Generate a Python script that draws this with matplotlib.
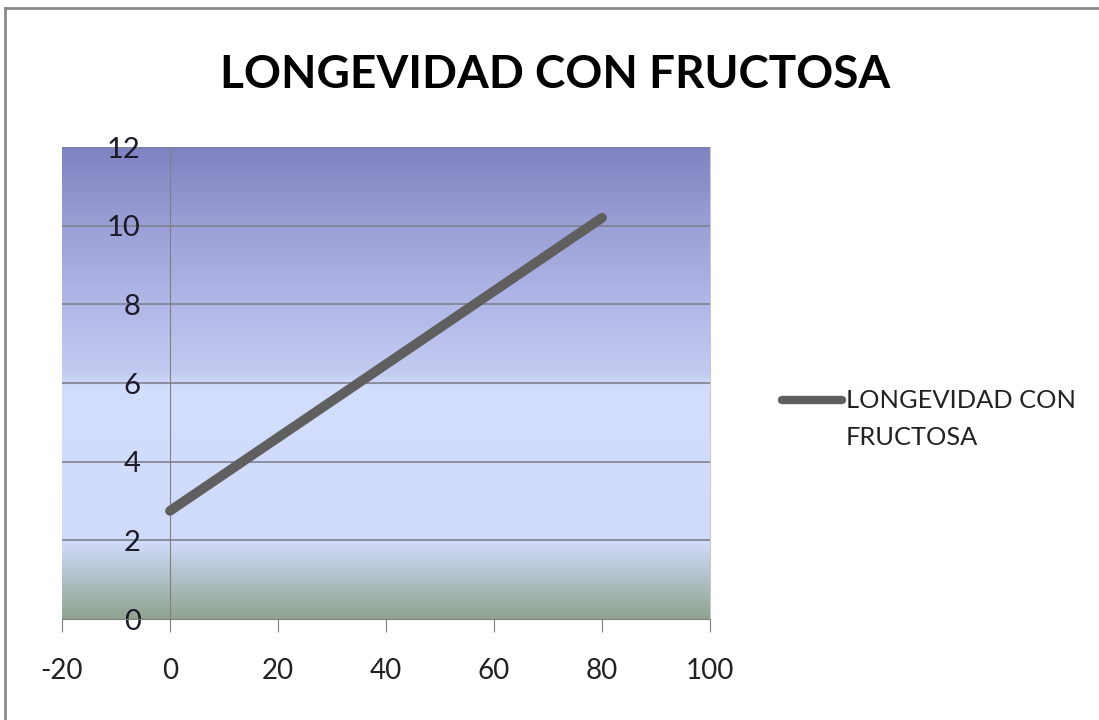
import numpy as np
import matplotlib.pyplot as plt
from matplotlib.colors import LinearSegmentedColormap
from matplotlib.lines import Line2D

title = "LONGEVIDAD CON FRUCTOSA"
series_name = ["LONGEVIDAD CON", "FRUCTOSA"]
x_vals = [0, 80]
y_vals = [2.75, 10.2]
x_ticks = [-20, 0, 20, 40, 60, 80, 100]
y_ticks = [0, 2, 4, 6, 8, 10, 12]

plt.rcParams['font.family'] = ['Lato', 'DejaVu Sans']
plt.rcParams['axes.unicode_minus'] = False

W, H = 1099, 720
fig = plt.figure(figsize=(W / 100, H / 100), dpi=100)
fig.patch.set_facecolor('white')


def fx(px):
    return px / W


def fy(py):
    return 1 - py / H


# outer chart border (left and top edges visible)
fig.add_artist(Line2D([fx(5), fx(5)], [0, fy(8)], transform=fig.transFigure,
                      color='#8a8a8a', lw=2))
fig.add_artist(Line2D([fx(5), 1], [fy(8), fy(8)], transform=fig.transFigure,
                      color='#8a8a8a', lw=2))

ax = fig.add_axes([fx(62), fy(619), fx(710) - fx(62), fy(147) - fy(619)])

# gradient plot-area fill
stops = [(0.0, '#8fa38f'), (0.16, '#d0dafa'), (0.49, '#d3ddfc'),
         (0.52, '#c4cbf1'), (0.66, '#b2b8e7'), (0.83, '#9ba0d6'), (1.0, '#7e82c0')]
cmap = LinearSegmentedColormap.from_list('bg', stops)
grad = np.linspace(0, 1, 512).reshape(-1, 1)
ax.imshow(grad, cmap=cmap, origin='lower', aspect='auto',
          extent=[-20, 100, 0, 12], zorder=0)

ax.set_xlim(-20, 100)
ax.set_ylim(0, 12)

for yt in y_ticks[1:]:
    ax.axhline(yt, color='#7f8090', lw=1.2, zorder=1)

line_color = '#5f5f5f'
ax.plot(x_vals, y_vals, color=line_color, lw=7, solid_capstyle='round', zorder=3)

ax.spines['left'].set_position(('data', 0))
ax.spines['left'].set_color('#808080')
ax.spines['bottom'].set_color('#808080')
ax.spines['right'].set_color('#c8c8c8')
ax.spines['top'].set_visible(False)

ax.set_xticks(x_ticks)
ax.set_yticks(y_ticks)
ax.tick_params(axis='x', direction='out', length=9, color='#808080', pad=19,
               labelsize=20, labelcolor='#222222')
ax.tick_params(axis='y', length=0, pad=21, labelsize=21, labelcolor='#1a1a2a')

fig.text(fx(555), fy(75), title, ha='center', va='center',
         fontsize=33, fontweight='bold', color='black')

# legend
fig.add_artist(Line2D([fx(782), fx(842)], [fy(400), fy(400)], transform=fig.transFigure,
                      color=line_color, lw=6, solid_capstyle='round'))
for i, s in enumerate(series_name):
    fig.text(fx(846), fy(400 + 38 * i), s, ha='left', va='center',
             fontsize=18.3, color='#222222')

fig.savefig('out.png', dpi=100)
